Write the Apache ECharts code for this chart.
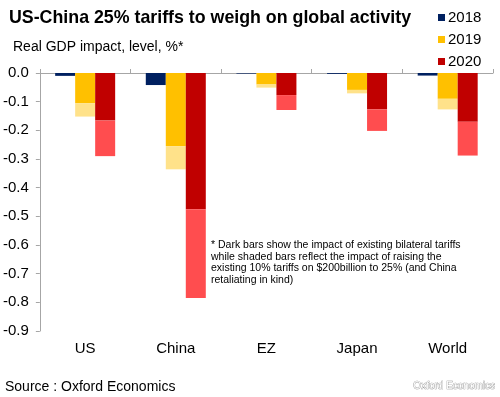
<!DOCTYPE html>
<html>
<head>
<meta charset="utf-8">
<script src="https://cdn.jsdelivr.net/npm/echarts@6/dist/echarts.min.js"></script>
<style>
  html, body { margin: 0; padding: 0; background: #fff; }
  #main { width: 500px; height: 397px; }
</style>
</head>
<body>
<div id="main"></div>
<script>
// regions on the x axis
var regions = ['US', 'China', 'EZ', 'Japan', 'World'];
var yearNames = ['2018', '2019', '2020'];
// dark bars: existing bilateral tariffs
var impact2018 = [-0.01, -0.042, -0.002, -0.003, -0.009];
var existing2019 = [-0.105, -0.255, -0.04, -0.059, -0.09];
var existing2020 = [-0.166, -0.475, -0.077, -0.127, -0.17];
// full level incl. 25% tariffs (end of shaded bar)
var total2019 = [-0.152, -0.336, -0.051, -0.071, -0.127];
var total2020 = [-0.29, -0.785, -0.129, -0.202, -0.288];

var font = 'Liberation Sans, Arial, sans-serif';
var axisGray = '#a6a6a6';

function diff(total, dark) {
  return total.map(function (v, i) { return +(v - dark[i]).toFixed(3); });
}

var myChart = echarts.init(document.getElementById('main'));

var option = {
  animation: false,
  textStyle: { fontFamily: font },
  title: [
    {
      text: 'US-China 25% tariffs to weigh on global activity',
      left: 4, top: 4,
      textStyle: { fontSize: 17.8, fontWeight: 'bold', color: '#000', fontFamily: font },
    },
    {
      text: 'Real GDP impact, level, %*',
      left: 8, top: 35,
      textStyle: { fontSize: 14, fontWeight: 'normal', color: '#000', fontFamily: font },
    },
  ],
  legend: {
    orient: 'vertical',
    left: 433, top: 5,
    itemWidth: 7, itemHeight: 7, itemGap: 7,
    icon: 'rect',
    data: yearNames,
    textStyle: { fontSize: 15, color: '#000', padding: [0, 0, 0, -2] },
  },
  grid: { left: 39, right: 7, top: 73, bottom: 66 },
  xAxis: [
    {
      type: 'category',
      data: regions,
      position: 'top',
      axisLine: { lineStyle: { color: axisGray } },
      axisTick: { show: true, length: 4, lineStyle: { color: axisGray } },
      axisLabel: { show: false },
    },
    {
      type: 'category',
      data: regions,
      position: 'bottom',
      axisLine: { show: false, onZero: false },
      axisTick: { show: false },
      axisLabel: { fontSize: 15, color: '#000', margin: 10 },
    },
  ],
  yAxis: {
    type: 'value',
    min: -0.9, max: 0, interval: 0.1,
    axisLine: { show: true, lineStyle: { color: axisGray } },
    axisTick: { show: true, length: 4, lineStyle: { color: axisGray } },
    splitLine: { show: false },
    axisLabel: {
      fontSize: 15, color: '#000', margin: 11,
      formatter: function (v) { return v.toFixed(1); },
    },
  },
  graphic: [
    {
      type: 'text', left: 211, top: 239,
      style: {
        text: '* Dark bars show the impact of existing bilateral tariffs\nwhile shaded bars reflect the impact of raising the\nexisting 10% tariffs on $200billion to 25% (and China\nretaliating in kind)',
        font: '10.5px ' + font, fill: '#000', lineHeight: 11.8,
      },
    },
    {
      type: 'text', left: 5, top: 380,
      style: { text: 'Source : Oxford Economics', font: '14px ' + font, fill: '#000' },
    },
    {
      type: 'text', left: 413, top: 381,
      style: { text: 'Oxford Economics', font: '10px ' + font, fill: '#fff', stroke: '#8a8a8a', lineWidth: 0.7 },
    },
  ],
  series: [
    {
      name: '2018', type: 'bar', stack: 'y18', barWidth: 20, barGap: '0%',
      itemStyle: { color: '#002060' },
      data: impact2018,
    },
    {
      name: '2019', type: 'bar', stack: 'y19', barWidth: 20, barGap: '0%',
      itemStyle: { color: '#FFC000' },
      data: existing2019,
    },
    {
      name: '2019 shaded', type: 'bar', stack: 'y19', barWidth: 20, barGap: '0%',
      itemStyle: { color: '#FFE28A' },
      data: diff(total2019, existing2019),
    },
    {
      name: '2020', type: 'bar', stack: 'y20', barWidth: 20, barGap: '0%',
      itemStyle: { color: '#C00000' },
      data: existing2020,
    },
    {
      name: '2020 shaded', type: 'bar', stack: 'y20', barWidth: 20, barGap: '0%',
      itemStyle: { color: '#FF4D4F' },
      data: diff(total2020, existing2020),
    },
  ],
};

myChart.setOption(option);
</script>
</body>
</html>
